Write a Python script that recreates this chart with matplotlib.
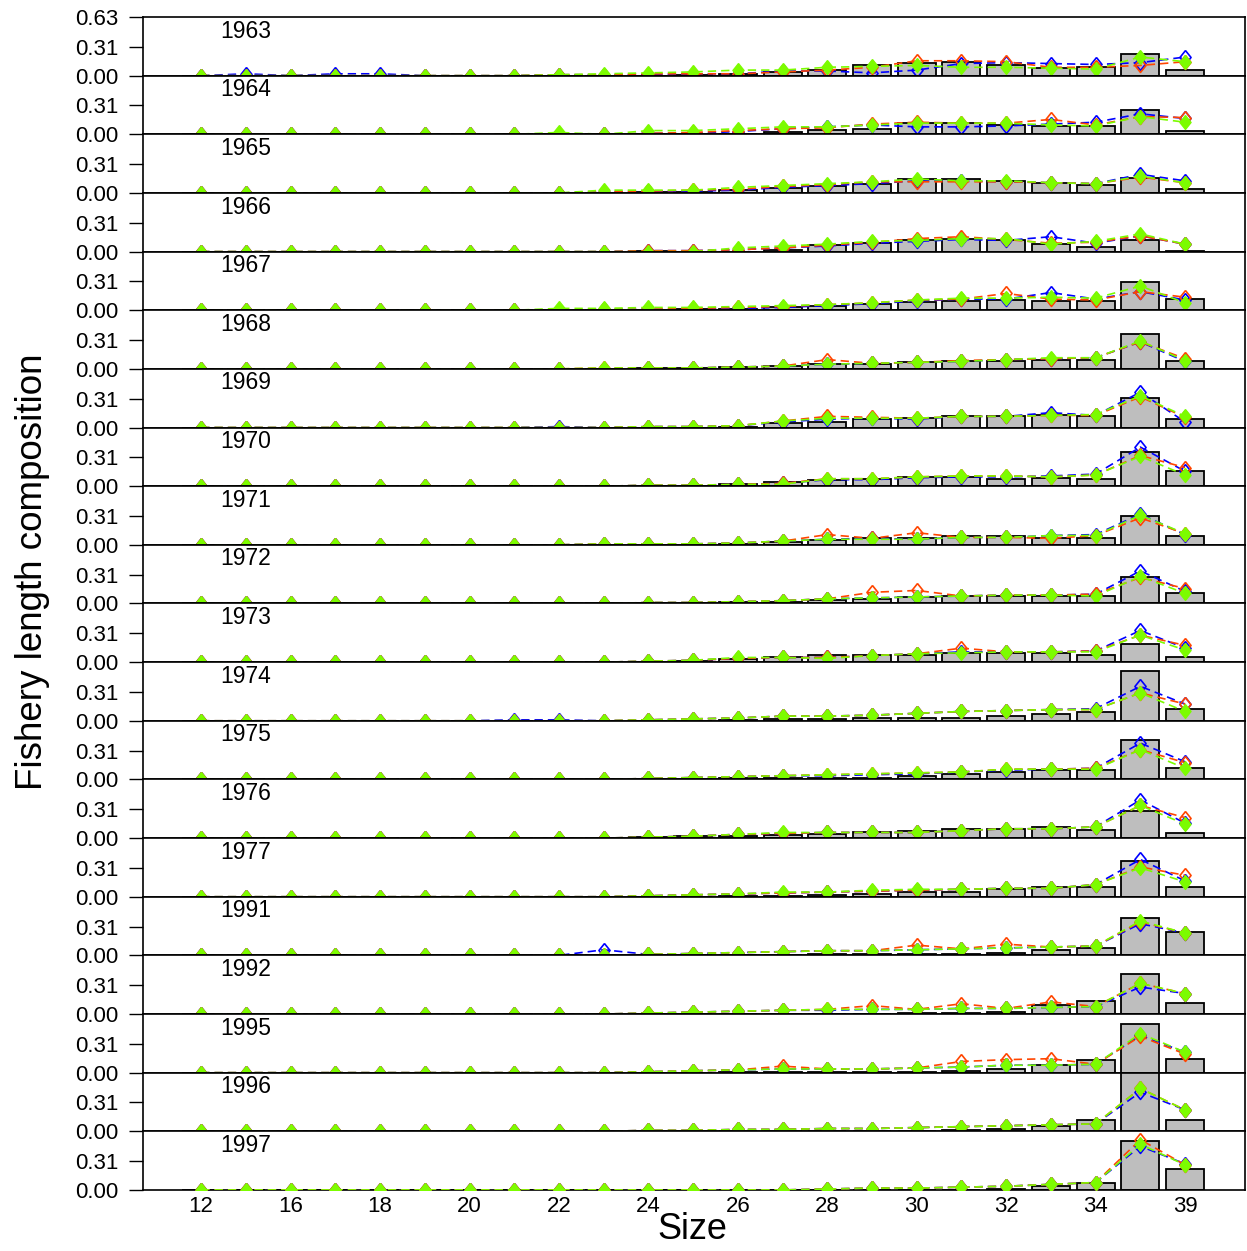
import matplotlib.pyplot as plt
import matplotlib.transforms as mtransforms
import numpy as np

plt.rcParams['font.family'] = ['Liberation Sans', 'DejaVu Sans']

# length bins (categorical axis)
sizes = ['12', '14', '16', '17', '18', '19', '20', '21', '22', '23', '24', '25',
         '26', '27', '28', '29', '30', '31', '32', '33', '34', '35', '39']
years = [1963, 1964, 1965, 1966, 1967, 1968, 1969, 1970, 1971, 1972,
         1973, 1974, 1975, 1976, 1977, 1991, 1992, 1995, 1996, 1997]

z8 = [0] * 8

# observed proportions (x100), drawn as bars
obs = {
    1963: z8 + [0, 0, 0, 1, 2, 4, 6, 11, 14, 15, 11, 8, 9, 23, 6],
    1964: z8 + [0, 0, 0, 0, 0, 2, 5, 6, 12, 12, 10, 9, 9, 26, 4],
    1965: z8 + [0, 0, 1, 1, 3, 5, 8, 10, 15, 15, 13, 11, 9, 16, 4],
    1966: z8 + [0, 0, 1, 0, 0, 2, 7, 9, 12, 14, 12, 8, 5, 12, 1],
    1967: z8 + [0, 0, 0, 1, 1, 3, 5, 7, 9, 10, 11, 10, 10, 30, 12],
    1968: z8 + [0, 0, 1, 1, 2, 3, 5, 5, 7, 9, 9, 10, 10, 38, 8],
    1969: z8 + [0, 0, 0, 0, 1, 5, 6, 9, 10, 12, 12, 13, 12, 32, 9],
    1970: z8 + [0, 0, 0, 0, 2, 4, 7, 8, 10, 10, 8, 9, 8, 37, 16],
    1971: z8 + [0, 0, 0, 0, 1, 3, 5, 7, 7, 9, 9, 7, 7, 31, 9],
    1972: z8 + [0, 0, 0, 1, 2, 2, 4, 5, 7, 8, 8, 8, 8, 28, 11],
    1973: z8 + [0, 0, 0, 1, 3, 6, 8, 8, 8, 10, 10, 10, 8, 19, 5],
    1974: z8 + [0, 0, 0, 0, 1, 2, 2, 3, 3, 3, 5, 7, 9, 53, 13],
    1975: z8 + [0, 0, 0, 0, 1, 1, 1, 2, 4, 6, 8, 10, 10, 42, 12],
    1976: z8 + [0, 0, 1, 2, 2, 3, 4, 6, 8, 10, 10, 12, 9, 29, 5],
    1977: z8 + [0, 0, 0, 0, 1, 1, 2, 3, 5, 5, 8, 10, 10, 38, 10],
    1991: [0] * 6 + [0.5, 0.5, 0.5, 0.5, 0.5, 0.5, 0.5, 0.5, 1, 1, 2, 2, 3, 6, 8, 40, 25],
    1992: z8 + [0, 0, 0, 0, 0, 0, 0, 0, 1, 1, 2, 10, 14, 43, 12],
    1995: z8 + [0, 0, 0, 0, 1, 1, 1, 1, 1, 2, 4, 8, 14, 52, 15],
    1996: z8 + [0, 0, 0, 0, 0, 0, 0, 0, 0, 1, 3, 6, 12, 65, 12],
    1997: z8 + [0, 0, 0, 0, 0, 0, 0, 0, 0, 0, 1, 4, 8, 53, 22],
}

# expected proportions (x100) from the three model runs
blue = {
    1963: [0, 2, 0, 2, 2, 0, 0, 0, 1, 1, 1, 2, 2, 5, 5, 3, 6, 13, 14, 13, 12, 14, 20],
    1964: z8 + [0, 0, 1, 1, 3, 6, 8, 10, 8, 8, 9, 11, 13, 22, 17],
    1965: z8 + [0, 1, 2, 2, 3, 6, 8, 10, 13, 13, 12, 11, 10, 20, 13],
    1966: z8 + [0, 0, 1, 1, 2, 4, 6, 9, 11, 13, 12, 16, 9, 17, 8],
    1967: z8 + [0, 1, 1, 1, 2, 3, 5, 7, 10, 12, 12, 19, 12, 20, 11],
    1968: z8 + [0, 0, 1, 1, 2, 3, 5, 6, 7, 8, 10, 11, 12, 29, 8],
    1969: z8 + [1, 0, 1, 1, 2, 6, 9, 10, 9, 12, 12, 16, 13, 38, 6],
    1970: z8 + [0, 0, 1, 1, 2, 3, 7, 7, 9, 10, 10, 11, 13, 42, 16],
    1971: z8 + [0, 1, 1, 1, 2, 4, 6, 7, 6, 8, 8, 10, 11, 33, 11],
    1972: z8 + [0, 0, 1, 1, 2, 3, 5, 6, 7, 8, 9, 9, 10, 35, 13],
    1973: z8 + [0, 0, 1, 2, 4, 5, 5, 7, 9, 11, 11, 11, 12, 34, 15],
    1974: [0, 0, 0, 0, 0, 0, 0, 1, 1, 0, 1, 2, 3, 5, 5, 6, 8, 10, 11, 12, 13, 37, 18],
    1975: z8 + [0, 0, 1, 2, 3, 4, 4, 5, 6, 8, 10, 11, 12, 39, 19],
    1976: z8 + [0, 0, 1, 2, 4, 5, 6, 6, 6, 8, 10, 10, 12, 41, 16],
    1977: z8 + [0, 0, 1, 2, 3, 4, 5, 6, 7, 8, 9, 9, 13, 40, 17],
    1991: z8 + [0, 6, 1, 2, 3, 4, 5, 5, 6, 7, 8, 9, 10, 34, 24],
    1992: z8 + [0, 0, 1, 2, 3, 4, 4, 5, 5, 6, 6, 7, 8, 29, 22],
    1995: z8 + [0, 0, 1, 2, 3, 4, 4, 4, 5, 6, 8, 8, 9, 40, 22],
    1996: z8 + [0, 0, 1, 1, 2, 2, 3, 3, 4, 5, 6, 7, 8, 42, 23],
    1997: z8 + [0, 0, 0, 0, 0, 0, 1, 2, 2, 3, 4, 6, 8, 47, 28],
}

red = {
    1963: z8 + [1, 1, 2, 2, 2, 4, 6, 9, 16, 16, 15, 9, 9, 11, 15],
    1964: z8 + [0, 0, 1, 2, 4, 6, 7, 11, 13, 12, 12, 16, 10, 19, 18],
    1965: z8 + [0, 1, 2, 3, 4, 7, 9, 12, 12, 12, 12, 11, 10, 17, 11],
    1966: z8 + [0, 0, 1, 1, 2, 4, 7, 10, 14, 16, 13, 9, 10, 17, 8],
    1967: z8 + [0, 1, 1, 2, 3, 4, 6, 8, 11, 12, 18, 12, 11, 20, 14],
    1968: z8 + [0, 1, 1, 1, 2, 3, 10, 6, 7, 9, 10, 11, 12, 29, 11],
    1969: z8 + [0, 0, 1, 1, 2, 7, 12, 11, 10, 12, 12, 13, 13, 33, 11],
    1970: z8 + [0, 0, 1, 1, 2, 3, 8, 8, 10, 11, 11, 10, 12, 33, 20],
    1971: z8 + [0, 1, 1, 1, 2, 4, 11, 7, 13, 8, 8, 7, 10, 29, 12],
    1972: z8 + [0, 0, 1, 1, 2, 3, 5, 12, 14, 8, 9, 9, 10, 28, 16],
    1973: z8 + [0, 0, 1, 2, 4, 5, 5, 7, 9, 15, 11, 11, 12, 29, 18],
    1974: z8 + [0, 0, 1, 2, 3, 5, 5, 6, 8, 10, 11, 12, 12, 30, 18],
    1975: z8 + [0, 0, 1, 2, 3, 4, 5, 6, 7, 8, 11, 11, 12, 32, 18],
    1976: z8 + [0, 0, 1, 2, 4, 5, 6, 6, 6, 8, 10, 10, 12, 35, 22],
    1977: z8 + [0, 0, 1, 2, 3, 4, 5, 6, 7, 8, 9, 9, 13, 32, 23],
    1991: z8 + [0, 0, 1, 2, 3, 4, 5, 5, 11, 7, 12, 9, 10, 36, 24],
    1992: z8 + [0, 0, 1, 2, 3, 4, 5, 9, 5, 11, 6, 13, 8, 33, 22],
    1995: z8 + [0, 0, 1, 2, 3, 7, 4, 4, 5, 12, 14, 15, 9, 39, 20],
    1996: z8 + [0, 0, 1, 1, 2, 2, 3, 3, 4, 5, 6, 7, 8, 46, 23],
    1997: z8 + [0, 0, 0, 0, 0, 0, 1, 2, 2, 3, 4, 6, 8, 54, 27],
}

green = {
    1963: z8 + [1, 2, 3, 4, 6, 6, 9, 10, 11, 9, 9, 8, 7, 20, 15],
    1964: z8 + [2, 0, 4, 4, 6, 8, 8, 10, 12, 12, 12, 10, 9, 19, 13],
    1965: z8 + [0, 3, 3, 3, 6, 8, 10, 12, 15, 13, 13, 11, 10, 18, 11],
    1966: z8 + [0, 0, 0, 0, 4, 6, 8, 11, 12, 14, 14, 8, 11, 19, 8],
    1967: z8 + [2, 2, 3, 3, 4, 5, 6, 8, 11, 13, 13, 14, 13, 26, 8],
    1968: z8 + [0, 1, 1, 1, 2, 3, 5, 6, 7, 8, 10, 12, 12, 30, 9],
    1969: z8 + [0, 0, 1, 1, 2, 7, 10, 10, 10, 12, 12, 13, 14, 34, 12],
    1970: z8 + [0, 0, 1, 1, 2, 2, 8, 8, 10, 11, 11, 10, 12, 32, 12],
    1971: z8 + [0, 1, 1, 1, 2, 4, 6, 6, 6, 8, 8, 10, 10, 32, 12],
    1972: z8 + [0, 0, 1, 1, 2, 3, 5, 6, 7, 8, 9, 9, 8, 29, 11],
    1973: z8 + [0, 0, 1, 2, 5, 5, 4, 7, 9, 10, 11, 11, 11, 29, 13],
    1974: z8 + [0, 0, 1, 2, 3, 5, 5, 6, 8, 10, 11, 12, 12, 30, 10],
    1975: z8 + [0, 0, 1, 2, 3, 4, 5, 6, 7, 8, 11, 11, 11, 32, 12],
    1976: z8 + [0, 0, 1, 2, 4, 6, 6, 6, 6, 8, 10, 10, 12, 35, 15],
    1977: z8 + [0, 0, 1, 2, 3, 5, 5, 7, 8, 8, 9, 9, 13, 31, 16],
    1991: z8 + [0, 0, 1, 2, 3, 4, 5, 5, 6, 7, 8, 9, 10, 37, 24],
    1992: z8 + [0, 0, 1, 2, 3, 4, 5, 5, 5, 6, 6, 7, 8, 33, 22],
    1995: z8 + [0, 0, 1, 2, 3, 4, 4, 4, 5, 6, 8, 8, 9, 42, 22],
    1996: z8 + [0, 0, 1, 1, 2, 2, 3, 3, 4, 5, 6, 7, 8, 46, 23],
    1997: z8 + [0, 0, 0, 0, 0, 0, 1, 2, 2, 3, 4, 6, 8, 49, 27],
}

ymax = 0.63
diamond = [(0, 1), (0.8, 0), (0, -1), (-0.8, 0), (0, 1)]

fig, axes = plt.subplots(len(years), 1, figsize=(12.47, 12.51), dpi=100, sharex=True)
fig.subplots_adjust(left=0.1147, right=0.9984, top=0.9864, bottom=0.0488, hspace=0)

x = np.arange(len(sizes))
nyr = len(years)
for k, (ax, yr) in enumerate(zip(axes, years)):
    last = (k == nyr - 1)
    lz = 3 if last else 2
    ax.bar(x, np.array(obs[yr]) / 100, width=0.85, color='#bebebe',
           edgecolor='black', linewidth=1.3, zorder=1)
    for series, col in ((blue, 'blue'), (red, 'orangered')):
        ax.plot(x, np.array(series[yr]) / 100, color=col, lw=1.2,
                ls=(0, (5, 3)), marker=diamond, ms=10, mfc='none',
                mec=col, mew=1.2, zorder=lz)
    ax.plot(x, np.array(green[yr]) / 100, color='lawngreen', lw=1.2,
            ls=(0, (5, 3)), marker=diamond, ms=10, mfc='lawngreen',
            mec='lawngreen', zorder=lz + 0.1)

    ax.set_xlim(-1.3, 23.34)
    ax.set_ylim(0, ymax)
    ticks = [0.0, 0.31, 0.63] if k == 0 else [0.0, 0.31]
    ax.set_yticks(ticks)
    ax.set_yticklabels(['%.2f' % t for t in ticks])
    ax.tick_params(axis='y', direction='out', length=10, width=1,
                   labelsize=16, pad=8)
    for sp in ax.spines.values():
        sp.set_linewidth(1.2)

    trans = mtransforms.blended_transform_factory(ax.transData, ax.transAxes)
    ax.text(1, 0.76, str(yr), transform=trans, ha='center', va='center',
            fontsize=16.5)

axes[-1].set_xticks(x[::2])
axes[-1].set_xticklabels(sizes[::2])
axes[-1].tick_params(axis='x', length=0, labelsize=16, pad=4)
for ax in axes[:-1]:
    ax.tick_params(axis='x', length=0, labelbottom=False)

fig.text(0.026, 0.543, 'Fishery length composition', rotation=90,
         ha='center', va='center', fontsize=26.5)
fig.text(0.555, 0.0168, 'Size', ha='center', va='center', fontsize=26)

fig.savefig('out.png', dpi=100)
